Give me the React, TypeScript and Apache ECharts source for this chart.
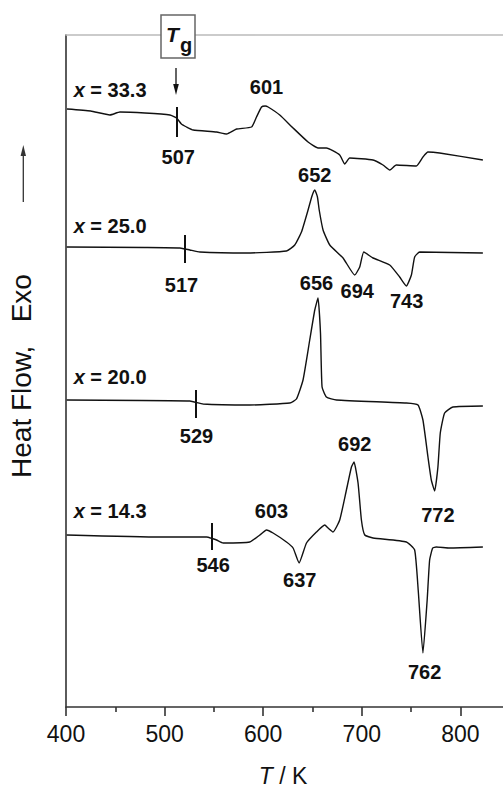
import React, { useEffect, useRef } from "react";
import * as echarts from "echarts";

// DSC traces, [T (K), heat flow (arb. units, offset)]
const curveX333 = [[401,59.8],[425,59.6],[444.6,59.2],[454.7,59.5],[480,59.4],[505.4,59.2],[512.2,58.9],[517,58.3],[522.3,58.0],[529,57.7],[552.7,57.5],[562.8,57.3],[573,57.8],[588.2,58.0],[593.2,59.0],[598.3,60.0],[602,60.1],[605,60.0],[616.8,59.2],[630.3,57.9],[645.5,56.5],[655.6,55.9],[664.1,55.9],[677.6,55.2],[682.7,54.3],[687.7,54.9],[711.4,54.7],[721.5,54.2],[728.3,53.7],[735,54.2],[755.3,54.1],[762,55],[767.1,55.5],[778.9,55.4],[822.8,54.7]];
const curveX250 = [[400.7,46.0],[480,45.95],[515.5,45.9],[525.6,45.7],[535.8,45.5],[583.1,45.4],[623.6,45.6],[632,46.2],[638.8,47.5],[645.5,49.7],[649.5,51.1],[652.3,51.7],[655,51.0],[656.8,49.7],[660.7,47.7],[667.5,46.2],[681,44.9],[692.8,43.2],[697.9,44.0],[702,45.5],[711.4,44.9],[728.3,44.2],[738.4,43.0],[745.2,42.1],[750.3,43.2],[753.6,45.0],[758.7,45.5],[822.8,45.4]];
const curveX200 = [[400.7,30.7],[525.6,30.6],[539.1,30.3],[586.4,30.2],[627,30.4],[633.7,30.8],[640.4,32.7],[647.2,36.7],[652.3,39.7],[655.6,40.9],[658.1,37.4],[659.7,32.0],[664.1,31.0],[674.3,30.7],[745.2,30.4],[757,30.2],[762,28.7],[767.1,25.0],[770.5,22.7],[773.9,21.6],[777.2,24.0],[779.6,27.4],[784,29.4],[792.4,30.0],[822.8,30.1]];
const curveX143 = [[400.7,17.2],[495.2,17.0],[542.6,17.0],[548.2,16.85],[552.7,16.7],[559.4,16.4],[586.4,16.5],[596.6,17.2],[603.3,17.7],[610,17.4],[623.6,16.5],[630.3,15.9],[636.4,14.4],[643.9,16.4],[654,17.5],[662.4,18.2],[665.8,17.9],[670.8,17.5],[677.6,18.7],[684.4,21.7],[689.5,24.0],[692.1,24.5],[696.2,22.4],[699.6,18.7],[703,17.2],[711.4,16.9],[745.2,16.5],[753.6,15.7],[757.2,11.7],[762,5.4],[766.3,10.7],[768.8,14.7],[771.9,15.9],[775.5,16.0],[789,15.9],[822.8,16.0]];

// series names
const seriesNames = ["33.3", "25.0", "20.0", "14.3"];
const seriesNameAt = [[407.8,61.7],[407.8,48.1],[407.8,33.0],[407.8,19.6]];

// glass transition markers
const tgTickT = [512, 520, 532, 548];
const tgTickRange = [[57.0,60.0],[44.4,47.2],[28.9,31.7],[15.7,18.4]];

// peak / Tg labels
const peakLabelText = ["601","507","652","517","656","694","743","529","692","772","603","546","637","762"];
const peakLabelAt = [[603.3,62.0],[513.8,55.0],[652.3,53.2],[517.2,42.2],[654,42.45],[695.4,41.6],[745.5,40.6],[532.4,27.1],[692.8,26.3],[777.2,19.2],[608.4,19.6],[549.2,14.2],[637.1,12.7],[763.7,3.5]];

const xTicks = [400, 500, 600, 700, 800];

const FONT = "'Liberation Sans', Arial, sans-serif";

export default function App() {
  const ref = useRef<HTMLDivElement>(null);
  useEffect(() => {
    document.body.style.margin = "0";
    const chart = echarts.init(ref.current!, null, { renderer: "svg" });
    const curves = [curveX333, curveX250, curveX200, curveX143];
    const option: any = {
      animation: false,
      backgroundColor: "#fff",
      grid: { left: 66, right: -56, top: 35, bottom: 81, containLabel: false, outerBoundsMode: "none" },
      xAxis: [
        {
          type: "value",
          min: xTicks[0],
          max: 900,
          interval: 100,
          axisLine: { show: true, lineStyle: { color: "#333", width: 1.6 } },
          axisTick: { show: true, inside: false, length: 9, lineStyle: { color: "#333", width: 1.6 } },
          minorTick: { show: true, splitNumber: 2, length: 5, lineStyle: { color: "#333", width: 1.6 } },
          splitLine: { show: false },
          axisLabel: {
            show: true,
            showMaxLabel: false,
            fontSize: 23,
            color: "#111",
            fontFamily: FONT,
            margin: 15,
            formatter: (v: number) => (xTicks.indexOf(v) >= 0 ? String(v) : ""),
          },
        },
        {
          type: "value",
          position: "top",
          min: xTicks[0],
          max: 900,
          axisLine: { show: true, onZero: false, lineStyle: { color: "#bbb", width: 1.6 } },
          axisTick: { show: false },
          axisLabel: { show: false },
          splitLine: { show: false },
        },
      ],
      yAxis: {
        type: "value",
        min: 0,
        max: 67.2,
        axisLine: { show: true, onZero: false, lineStyle: { color: "#333", width: 1.6 } },
        axisTick: { show: false },
        axisLabel: { show: false },
        splitLine: { show: false },
        name: "Heat Flow,   Exo",
        nameLocation: "middle",
        nameRotate: 90,
        nameGap: 31,
        nameTextStyle: { fontSize: 28, color: "#111", fontFamily: FONT, padding: [0, 0, 0, -10] },
      },
      series: [
        ...curves.map((c, i) => ({
          type: "line",
          name: "x = " + seriesNames[i],
          data: c,
          showSymbol: false,
          smooth: 0.15,
          lineStyle: { color: "#111", width: 1.4 },
          z: 3,
        })),
        {
          type: "lines",
          coordinateSystem: "cartesian2d",
          data: tgTickT.map((t, i) => ({ coords: [[t, tgTickRange[i][0]], [t, tgTickRange[i][1]]] })),
          lineStyle: { color: "#111", width: 2, opacity: 1 },
          z: 4,
        },
        {
          type: "scatter",
          symbolSize: 1,
          itemStyle: { color: "rgba(0,0,0,0)", opacity: 1 },
          data: peakLabelText.map((t, i) => ({ value: peakLabelAt[i], name: t })),
          label: {
            show: true,
            position: "inside",
            formatter: (p: any) => p.name,
            fontSize: 20,
            fontWeight: "bold",
            color: "#111",
            opacity: 1,
            fontFamily: FONT,
          },
          z: 5,
        },
        {
          type: "scatter",
          symbolSize: 1,
          itemStyle: { color: "rgba(0,0,0,0)", opacity: 1 },
          data: seriesNames.map((t, i) => ({ value: seriesNameAt[i], name: t })),
          label: {
            show: true,
            position: "inside",
            align: "left",
            formatter: (p: any) => "{i|x} = " + p.name,
            fontSize: 20,
            fontWeight: "bold",
            color: "#111",
            opacity: 1,
            fontFamily: FONT,
            rich: { i: { fontStyle: "italic", fontWeight: "bold", fontSize: 20, fontFamily: FONT, color: "#111" } },
          },
          z: 5,
        },
      ],
      graphic: [
        // Tg box
        { type: "rect", shape: { x: 161, y: 15, width: 34, height: 43 }, style: { fill: "#fff", stroke: "#666", lineWidth: 1.5 }, z: 10 },
        { type: "text", x: 172.5, y: 34, style: { text: "T", font: "italic bold 21px " + FONT, fill: "#111", align: "center", verticalAlign: "middle" }, z: 11 },
        { type: "text", x: 186, y: 45, style: { text: "g", font: "bold 20px " + FONT, fill: "#111", align: "center", verticalAlign: "middle" }, z: 11 },
        // Tg arrow
        { type: "line", shape: { x1: 176, y1: 68, x2: 176, y2: 86 }, style: { stroke: "#111", lineWidth: 1.3 }, z: 10 },
        { type: "polygon", shape: { points: [[176, 95], [173.2, 84], [178.8, 84]] }, style: { fill: "#111" }, z: 10 },
        // exo arrow
        { type: "line", shape: { x1: 23.3, y1: 202, x2: 23.3, y2: 152 }, style: { stroke: "#333", lineWidth: 1.3 }, z: 10 },
        { type: "polygon", shape: { points: [[23.3, 145], [20.6, 156], [26, 156]] }, style: { fill: "#333" }, z: 10 },
        // x axis title
        {
          type: "text",
          x: 283,
          y: 776,
          style: {
            text: "{i|T} / K",
            font: "23px " + FONT,
            fill: "#111",
            align: "center",
            verticalAlign: "middle",
            rich: { i: { fontStyle: "italic", fontSize: 23, fontFamily: FONT, fill: "#111" } },
          },
          z: 10,
        },
      ],
    };
    chart.setOption(option);
    return () => chart.dispose();
  }, []);
  return <div ref={ref} style={{ position: "absolute", left: 0, top: 0, width: 503, height: 788 }} />;
}
